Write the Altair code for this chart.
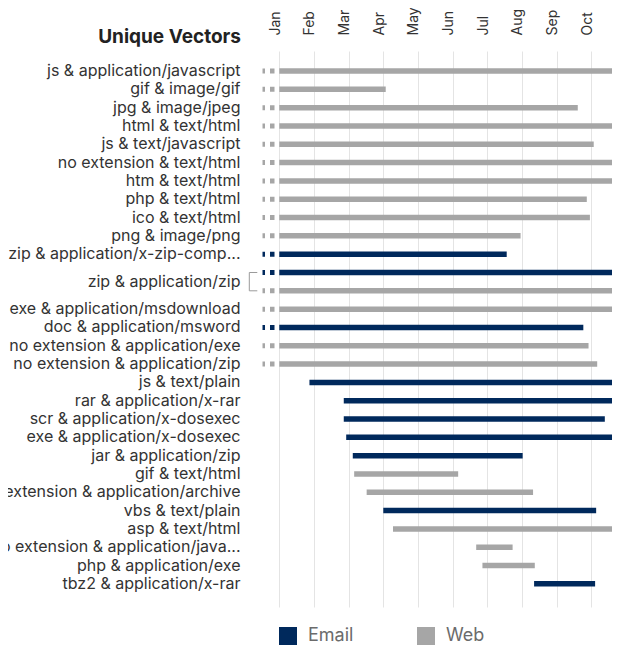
import altair as alt
import pandas as pd

months = ["Jan", "Feb", "Mar", "Apr", "May", "Jun", "Jul", "Aug", "Sep", "Oct", "Nov", "Dec"]

labels = [
    "js & application/javascript", "gif & image/gif", "jpg & image/jpeg", "html & text/html",
    "js & text/javascript", "no extension & text/html", "htm & text/html", "php & text/html",
    "ico & text/html", "png & image/png", "zip & application/x-zip-comp...",
    "zip & application/zip", "zip & application/zip", "exe & application/msdownload",
    "doc & application/msword", "no extension & application/exe", "no extension & application/zip",
    "js & text/plain", "rar & application/x-rar", "scr & application/x-dosexec",
    "exe & application/x-dosexec", "jar & application/zip", "gif & text/html",
    "no extension & application/archive", "vbs & text/plain", "asp & text/html",
    "no extension & application/java...", "php & application/exe", "tbz2 & application/x-rar",
]
channels = [
    "Web", "Web", "Web", "Web", "Web", "Web", "Web", "Web", "Web", "Web", "Email",
    "Email", "Web", "Web", "Email", "Web", "Web",
    "Email", "Email", "Email", "Email", "Email", "Web", "Web", "Email", "Web", "Web", "Web", "Email",
]
# month index: 0 = start of Jan, 1 = start of Feb, ...
starts = [0, 0, 0, 0, 0, 0, 0, 0, 0, 0, 0, 0, 0, 0, 0, 0, 0,
          0.87, 1.86, 1.86, 1.93, 2.12, 2.16, 2.52, 3.0, 3.28, 5.68, 5.86, 7.35]
ends = [10.4, 3.07, 8.61, 9.77, 9.07, 9.80, 10.4, 8.87, 8.96, 6.96, 6.56, 10.4, 10.4, 9.71,
        8.77, 8.92, 9.17, 10.4, 10.4, 9.39, 10.4, 7.02, 5.16, 7.32, 9.14, 9.75, 6.73, 7.37, 9.11]
before_jan = [True] * 17 + [False] * 12
pre_start = -0.484  # how far the "earlier than Jan" dashes reach back

EMAIL = "#00295c"
WEB = "#a6a6a6"
FONT = "Inter"

df = pd.DataFrame({
    "row": list(range(len(labels))),
    "label": labels,
    "channel": channels,
    "start": starts,
    "end": ends,
    "before": before_jan,
})
df["pre"] = pre_start

# label groups (consecutive identical labels share one label, with a bracket)
groups = []
for i, lab in enumerate(labels):
    if groups and groups[-1]["label"] == lab:
        groups[-1]["row_end"] = i
    else:
        groups.append({"label": lab, "row": i, "row_end": i})
gdf = pd.DataFrame(groups)
gdf["mid"] = (gdf["row"] + gdf["row_end"]) / 2
bdf = gdf[gdf["row_end"] > gdf["row"]].copy()

x_scale = alt.Scale(domain=[-0.614, 10.5], zero=False, nice=False)
y_scale = alt.Scale(domain=[-0.82, 28.99], zero=False, nice=False, reverse=True)
color_scale = alt.Scale(domain=["Email", "Web"], range=[EMAIL, WEB])

label_expr = "[" + ",".join("'%s'" % m for m in months) + "][datum.value]"
x_axis = alt.Axis(
    orient="top", values=list(range(11)), labelExpr=label_expr, title=None,
    grid=True, gridColor="#e4e4e4", gridWidth=1, ticks=False, tickSize=0, domain=False,
    labelAngle=-90, labelAlign="left", labelBaseline="alphabetic", labelPadding=16,
    labelFont=FONT, labelFontSize=14, labelColor="#333333", labelOverlap=False, labelBound=False,
    labelFlush=False,
)

bars = alt.Chart(df).mark_bar(height=5.5).encode(
    x=alt.X("start:Q", scale=x_scale, axis=x_axis),
    x2="end:Q",
    y=alt.Y("row:Q", scale=y_scale, axis=None),
    color=alt.Color("channel:N", scale=color_scale, legend=alt.Legend(
        title=None, orient="none", legendX=21, legendY=576, direction="horizontal",
        symbolType="square", symbolSize=324, symbolStrokeWidth=0, symbolOpacity=1,
        labelFontSize=18, labelFont=FONT, labelColor="#6b6b6b", columnPadding=63,
        labelOffset=11, padding=0,
    )),
)

dashes = alt.Chart(df).transform_filter("datum.before").mark_rule(
    strokeWidth=5, strokeCap="butt", strokeDash=[2.5, 5, 4.5, 5]
).encode(
    x=alt.X("pre:Q", scale=x_scale, axis=x_axis),
    x2="start:Q",
    y=alt.Y("row:Q", scale=y_scale, axis=None),
    color=alt.Color("channel:N", scale=color_scale, legend=None),
)

row_labels = alt.Chart(gdf).mark_text(
    align="right", baseline="middle", font=FONT, fontSize=16, color="#333333"
).encode(
    x=alt.value(-17.5),
    y=alt.Y("mid:Q", scale=y_scale, axis=None),
    text="label:N",
)

bracket_v = alt.Chart(bdf).mark_rule(color="#9a9a9a", strokeWidth=1).encode(
    x=alt.value(-8.7),
    y=alt.Y("row:Q", scale=y_scale, axis=None),
    y2="row_end:Q",
)
bracket_top = alt.Chart(bdf).mark_rule(color="#9a9a9a", strokeWidth=1).encode(
    x=alt.value(-8.7), x2=alt.value(-0.7),
    y=alt.Y("row:Q", scale=y_scale, axis=None),
)
bracket_bot = alt.Chart(bdf).mark_rule(color="#9a9a9a", strokeWidth=1).encode(
    x=alt.value(-8.7), x2=alt.value(-0.7),
    y=alt.Y("row_end:Q", scale=y_scale, axis=None),
)

title = alt.Chart(pd.DataFrame({"t": ["Unique Vectors"]})).mark_text(
    align="right", baseline="alphabetic", font=FONT, fontSize=19, fontWeight="bold", color="#222222"
).encode(
    x=alt.value(-17), y=alt.value(-7.7), text="t:N",
)

chart = alt.layer(bars, dashes, bracket_v, bracket_top, bracket_bot, row_labels, title).properties(
    width=385.3, height=556,
    autosize=alt.AutoSizeParams(type="none"),
    padding={"left": 250, "top": 43, "right": -31.3, "bottom": 42},
).configure_view(stroke=None)

chart.save("out.html", embed_options={"renderer": "svg", "actions": False})
